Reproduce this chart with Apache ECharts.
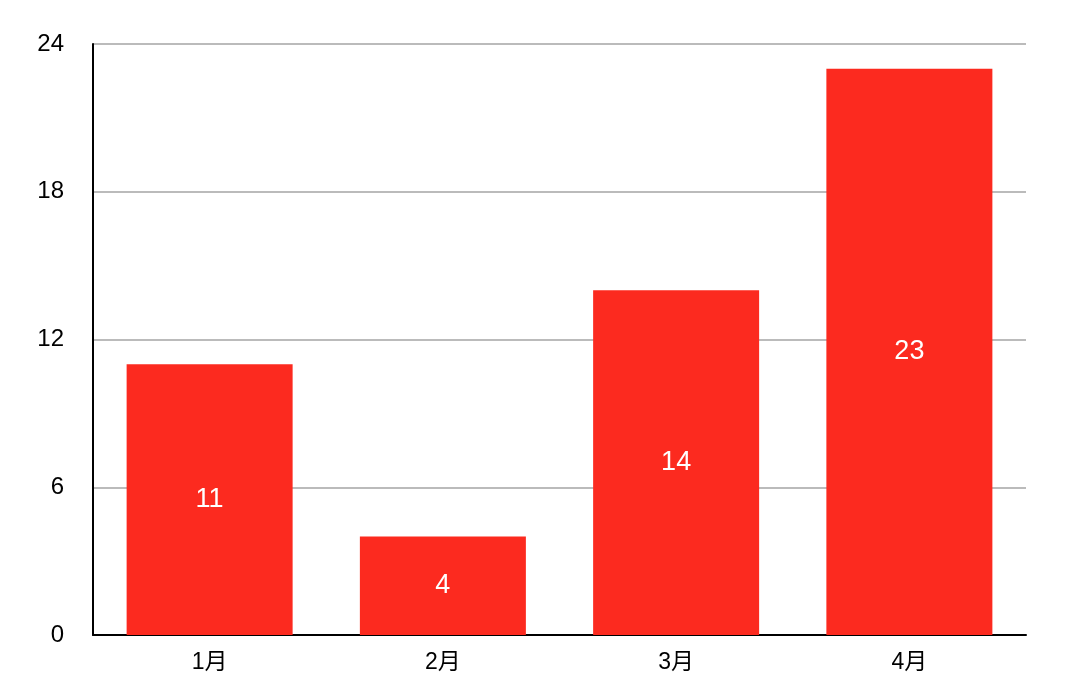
<!DOCTYPE html>
<html><head><meta charset="utf-8">
<script src="https://cdn.jsdelivr.net/npm/echarts@6/dist/echarts.min.js"></script>
<style>html,body{margin:0;padding:0;background:#fff}#c{width:1080px;height:697px}</style>
</head><body><div id="c"></div>
<script>
const categories = ['1月', '2月', '3月', '4月'];
const values = [11, 4, 14, 23];
const yTicks = { min: 0, max: 24, interval: 6 };

const chart = echarts.init(document.getElementById('c'), null, { renderer: 'canvas' });
const font = "'Liberation Sans', Arial, 'Noto Sans CJK SC', sans-serif";
chart.setOption({
  animation: false,
  backgroundColor: '#fff',
  grid: { left: 93, right: 54, top: 44, bottom: 62, containLabel: false },
  xAxis: {
    type: 'category', data: categories,
    axisLine: { lineStyle: { color: '#000', width: 2 } },
    axisTick: { show: false },
    axisLabel: { color: '#000', fontSize: 23, fontFamily: font, margin: 16 }
  },
  yAxis: {
    type: 'value', min: yTicks.min, max: yTicks.max, interval: yTicks.interval,
    axisLine: { show: true, lineStyle: { color: '#000', width: 2 } },
    axisTick: { show: false },
    axisLabel: { color: '#000', fontSize: 24, fontFamily: font, margin: 29 },
    splitLine: { lineStyle: { color: '#bbbbbb', width: 2 } }
  },
  series: [{
    type: 'bar', data: values, barWidth: 166,
    itemStyle: { color: '#fc2a1f' },
    label: { show: true, position: 'inside', color: '#fff', fontSize: 27, fontFamily: font }
  }]
});
</script></body></html>
